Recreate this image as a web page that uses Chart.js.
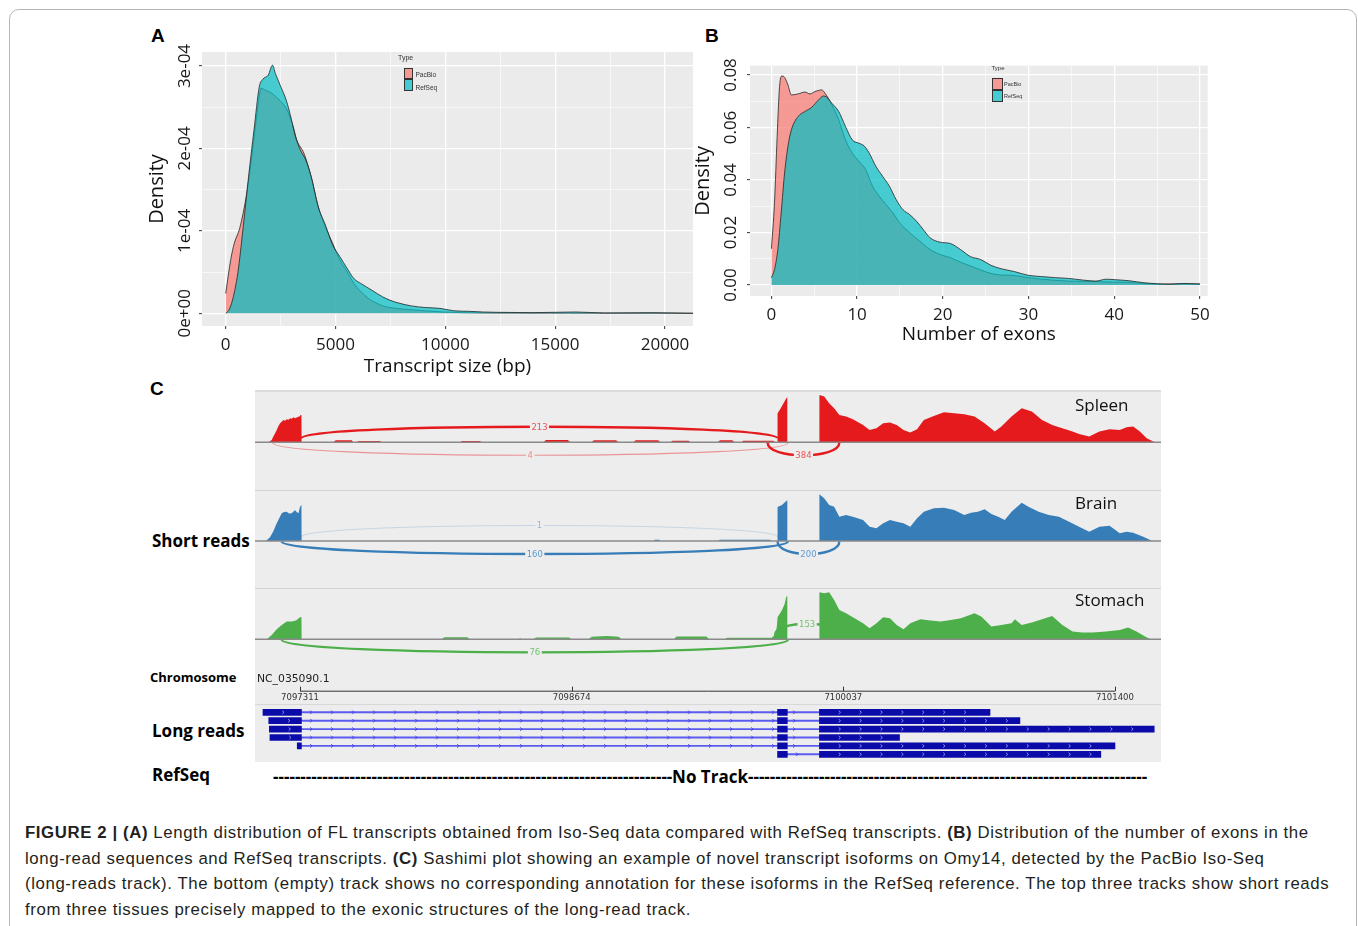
<!DOCTYPE html>
<html>
<head>
<meta charset="utf-8">
<title>Figure 2</title>
<script src="https://cdn.jsdelivr.net/npm/chart.js"></script>
<style>
  body { margin: 0; width: 1358px; height: 926px; position: relative; overflow: hidden; background: #fff; font-family: "Open Sans", sans-serif; color: #111; }
  .abs { position: absolute; white-space: nowrap; }
  canvas { position: absolute; }
  #frame { position: absolute; left: 9px; top: 9px; width: 1346px; height: 940px; border: 1px solid #b5b5b5; border-radius: 10px; }
  .letter { font: bold 19px/19px "Liberation Sans", Arial, sans-serif; color: #000; }
  .key { position: absolute; border: 1px solid #333; box-sizing: border-box; }
  .tiny { font-family: "Liberation Sans", Arial, sans-serif; color: #333; }
  #sashimiBg { position: absolute; left: 255px; top: 390px; width: 906px; height: 372px; background: #ededed; border-top: 2px solid #dcdcdc; box-sizing: border-box; }
  .sep { position: absolute; left: 255px; width: 906px; height: 1px; background: #d2d2d2; }
  .track { font-size: 17px; line-height: 24px; color: #111; }
  .side { font-weight: bold; font-size: 17px; line-height: 24px; color: #000; }
  #notrack { left: 273px; top: 765px; width: 874px; display: flex; font-weight: bold; font-size: 17px; line-height: 24px; color: #000; }
  #notrack .dash { flex: 1; overflow: hidden; }
  #caption { left: 25px; top: 820px; font: 16.8px/25.7px "Liberation Sans", Arial, sans-serif; letter-spacing: 0.6px; color: #231f20; }
</style>
</head>
<body>
<div id="frame"></div>

<div class="abs letter" style="left:151px;top:26px">A</div>
<div class="abs letter" style="left:705px;top:26px">B</div>
<div class="abs letter" style="left:150px;top:379px">C</div>

<canvas id="chartA" width="560" height="350" style="left:140px;top:40px"></canvas>
<canvas id="chartB" width="530" height="310" style="left:690px;top:50px"></canvas>

<!-- ggplot legends -->
<div class="abs tiny" style="left:398px;top:54px;font-size:7px">Type</div>
<div class="key" style="left:404px;top:67.5px;width:8.5px;height:11.5px;background:rgb(244,153,147)"></div>
<div class="key" style="left:404px;top:79px;width:8.5px;height:11.5px;background:rgb(70,204,208)"></div>
<div class="abs tiny" style="left:415.5px;top:71px;font-size:6.5px">PacBio</div>
<div class="abs tiny" style="left:415.5px;top:83.5px;font-size:6.5px">RefSeq</div>

<div class="abs tiny" style="left:991.5px;top:65px;font-size:6px">Type</div>
<div class="key" style="left:992px;top:78px;width:10.5px;height:12px;background:rgb(244,153,147)"></div>
<div class="key" style="left:992px;top:90px;width:10.5px;height:12px;background:rgb(70,204,208)"></div>
<div class="abs tiny" style="left:1004px;top:80.5px;font-size:5.5px">PacBio</div>
<div class="abs tiny" style="left:1004px;top:92.5px;font-size:5.5px">RefSeq</div>

<!-- panel C -->
<div id="sashimiBg"></div>
<div class="sep" style="top:490px"></div>
<div class="sep" style="top:588px"></div>
<div class="sep" style="top:704px;background:#d8d8d8"></div>

<canvas id="spleen" width="906" height="100" style="left:255px;top:390px"></canvas>
<canvas id="brain" width="906" height="98" style="left:255px;top:490px"></canvas>
<canvas id="stomach" width="906" height="80" style="left:255px;top:588px"></canvas>
<canvas id="reads" width="906" height="94" style="left:255px;top:668px"></canvas>

<div class="abs track" style="left:1075px;top:393px">Spleen</div>
<div class="abs track" style="left:1075px;top:491px">Brain</div>
<div class="abs track" style="left:1075px;top:588px">Stomach</div>

<div class="abs side" style="left:152px;top:529px">Short reads</div>
<div class="abs side" style="left:150px;top:668px;font-size:13px;line-height:18px">Chromosome</div>
<div class="abs side" style="left:152px;top:719px">Long reads</div>
<div class="abs side" style="left:152px;top:763px">RefSeq</div>
<div class="abs" style="left:257px;top:672px;font:10.8px/14px 'DejaVu Sans',sans-serif;color:#222">NC_035090.1</div>

<div id="notrack" class="abs">
  <span class="dash">--------------------------------------------------------------------------------------------------------</span>
  <span>No Track</span>
  <span class="dash">--------------------------------------------------------------------------------------------------------</span>
</div>

<div id="caption" class="abs">
<b>FIGURE 2 | (A)</b> Length distribution of FL transcripts obtained from Iso-Seq data compared with RefSeq transcripts. <b>(B)</b> Distribution of the number of exons in the<br>
long-read sequences and RefSeq transcripts. <b>(C)</b> Sashimi plot showing an example of novel transcript isoforms on Omy14, detected by the PacBio Iso-Seq<br>
(long-reads track). The bottom (empty) track shows no corresponding annotation for these isoforms in the RefSeq reference. The top three tracks show short reads<br>
from three tissues precisely mapped to the exonic structures of the long-read track.
</div>

<script>
'use strict';

Chart.defaults.font.family = '"Open Sans", sans-serif';

// panel A: transcript size (bp) vs density, density in units of 1e-4
let aPacX = [0, 228, 391, 635, 960, 1204, 1448, 1611, 1774, 2099, 2425, 2750, 3076, 3239, 3564, 3889, 4215, 4540, 4866, 5191, 5517, 5842, 6168, 6493, 6819, 7144, 7470, 8121, 9097, 9911, 10725, 12352, 15607, 21300];
let aPacY = [0.24, 0.65, 0.85, 1.03, 1.46, 1.94, 2.47, 2.73, 2.71, 2.67, 2.59, 2.49, 2.26, 2.10, 1.94, 1.66, 1.29, 1.05, 0.85, 0.65, 0.51, 0.36, 0.26, 0.18, 0.13, 0.09, 0.07, 0.05, 0.03, 0.016, 0.008, 0.004, 0.002, 0];
let aRefX = [0, 146, 309, 553, 798, 1042, 1286, 1530, 1693, 1937, 2132, 2262, 2506, 2750, 2994, 3157, 3401, 3645, 3889, 4215, 4540, 4866, 5191, 5517, 5842, 6168, 6656, 7144, 7470, 7796, 8447, 9097, 9748, 10399, 11050, 11701, 12352, 13980, 15933, 17234, 19350, 21300];
let aRefY = [0, 0.04, 0.16, 0.49, 1.05, 1.66, 2.22, 2.75, 2.84, 2.89, 3.01, 2.91, 2.75, 2.59, 2.35, 2.16, 1.98, 1.86, 1.66, 1.29, 1.07, 0.83, 0.69, 0.55, 0.42, 0.36, 0.28, 0.20, 0.16, 0.13, 0.09, 0.07, 0.06, 0.03, 0.024, 0.016, 0.012, 0.008, 0.016, 0.004, 0.008, 0];
let aXTicks = [0, 5000, 10000, 15000, 20000];
let aXMinor = [2500, 7500, 12500, 17500];
let aYTicks = [0, 1e-4, 2e-4, 3e-4];
let aYLabels = ['0e+00', '1e-04', '2e-04', '3e-04'];
let aYMinor = [0.5e-4, 1.5e-4, 2.5e-4];

// panel B: number of exons vs density
let bPacX = [0, 0.36, 0.67, 0.95, 1.22, 1.54, 1.93, 2.33, 3.12, 3.91, 4.50, 5.09, 5.88, 6.27, 7.06, 7.85, 8.64, 9.43, 10.22, 11.01, 11.80, 12.59, 13.38, 14.17, 14.96, 16.14, 17.32, 18.51, 19.69, 20.88, 22.06, 23.24, 24.43, 25.61, 26.80, 27.98, 29.16, 29.95, 31.53, 33.11, 34.69, 36.27, 37.85, 39.82, 41.79, 43.37, 44.95, 47.32, 50];
let bPacY = [0.0138, 0.0313, 0.0566, 0.0756, 0.0796, 0.0791, 0.0762, 0.0724, 0.0728, 0.0735, 0.0728, 0.0737, 0.0743, 0.0730, 0.0686, 0.0629, 0.0553, 0.0503, 0.0471, 0.0439, 0.0376, 0.0338, 0.0306, 0.0275, 0.0237, 0.0199, 0.0167, 0.0135, 0.0116, 0.0104, 0.0087, 0.0072, 0.0057, 0.0044, 0.0038, 0.0037, 0.0032, 0.0028, 0.0022, 0.0018, 0.0015, 0.0014, 0.0013, 0.0011, 0.0010, 0.0006, 0.0003, 0.0004, 0.0003];
let bRefX = [0, 0.36, 0.75, 1.14, 1.54, 1.93, 2.33, 3.12, 3.91, 4.70, 5.49, 6.08, 6.47, 7.06, 7.85, 8.64, 9.43, 10.22, 10.81, 11.40, 12.19, 12.98, 13.77, 14.56, 15.35, 16.14, 16.93, 17.72, 18.51, 19.69, 20.88, 22.06, 23.24, 24.43, 25.61, 26.80, 28.37, 29.95, 31.53, 33.11, 34.69, 36.27, 37.85, 39.03, 40.21, 41.79, 43.37, 44.95, 46.53, 48.11, 50];
let bRefY = [0.0028, 0.0059, 0.0135, 0.0275, 0.0427, 0.0528, 0.0591, 0.0642, 0.0661, 0.0677, 0.0705, 0.0720, 0.0715, 0.0692, 0.0661, 0.0604, 0.0553, 0.0540, 0.0530, 0.0503, 0.0452, 0.0414, 0.0376, 0.0325, 0.0287, 0.0268, 0.0243, 0.0211, 0.0180, 0.0163, 0.0158, 0.0135, 0.0108, 0.0097, 0.0075, 0.0062, 0.0051, 0.0037, 0.0032, 0.0028, 0.0025, 0.0019, 0.0015, 0.0022, 0.0020, 0.0016, 0.0009, 0.0005, 0.0003, 0.0006, 0.0004];
let bXTicks = [0, 10, 20, 30, 40, 50];
let bXMinor = [5, 15, 25, 35, 45];
let bYTicks = [0, 0.02, 0.04, 0.06, 0.08];
let bYLabels = ['0.00', '0.02', '0.04', '0.06', '0.08'];
let bYMinor = [0.01, 0.03, 0.05, 0.07];

// panel C: genomic window shown on NC_035090.1
let genomeMin = 7097085;
let genomeMax = 7101631;
let rulerTicks = [7097311, 7098674, 7100037, 7101400];

// coverage (read depth) per tissue
let spleenPos = [7097152, 7097169, 7097177, 7097186, 7097194, 7097202, 7097211, 7097219, 7097227, 7097236, 7097244, 7097253, 7097261, 7097269, 7097278, 7097286, 7097294, 7097303, 7097308, 7097314, 7097318, 7097319,
  7097478, 7097490, 7097570, 7097579, 7097595, 7097605, 7097712, 7097721, 7098114, 7098124, 7098213, 7098223, 7098532, 7098545, 7098655, 7098666,
  7098774, 7098785, 7098897, 7098908, 7098983, 7098995, 7099108, 7099119, 7099169, 7099180, 7099260, 7099271, 7099407, 7099418, 7099480, 7099491, 7099525, 7099535, 7099685, 7099695,
  7099707, 7099707, 7099720, 7099737, 7099751, 7099756, 7099756,
  7099917, 7099917, 7099941, 7099966, 7099991, 7100017, 7100051, 7100085, 7100136, 7100169, 7100203, 7100237, 7100271, 7100305, 7100339, 7100373, 7100407, 7100441, 7100491, 7100542, 7100593, 7100644, 7100695, 7100746, 7100797, 7100830, 7100881, 7100932, 7100983, 7101034, 7101085, 7101136, 7101187, 7101220, 7101271, 7101322, 7101373, 7101424, 7101458, 7101491, 7101525, 7101559, 7101593, 7101600];
let spleenDepth = [0, 2.3, 5.7, 9, 12.3, 16, 19, 20.5, 22.3, 21.5, 23, 22.5, 24, 23.5, 25, 24, 24.7, 25.5, 25.7, 27.3, 27.3, 0,
  0, 2, 2, 0, 0, 1.3, 1.3, 0, 0, 1.3, 1.3, 0, 0, 2.3, 2.3, 0,
  0, 2, 2, 0, 0, 2, 2, 0, 0, 1.5, 1.5, 0, 0, 2, 2, 0, 0, 1.5, 1.5, 0,
  0, 29, 33, 39, 44, 45, 0,
  0, 47.3, 45.7, 39, 34, 27.3, 25.7, 23, 17.3, 12.3, 14, 19, 19.7, 17.3, 12.3, 9.7, 13, 22.3, 26.3, 30, 29, 28, 25.7, 19, 10.7, 15.7, 25.7, 34, 30.7, 22.3, 17.3, 14, 10.7, 8.3, 5.7, 10.7, 13, 12.3, 15, 15.7, 10.7, 4, 0.7, 0];

let brainPos = [7097140, 7097161, 7097177, 7097194, 7097207, 7097219, 7097231, 7097244, 7097256, 7097269, 7097278, 7097286, 7097294, 7097303, 7097311, 7097318, 7097319,
  7099085, 7099092, 7099112, 7099119, 7099407, 7099418, 7099668, 7099678,
  7099707, 7099707, 7099729, 7099751, 7099756, 7099756,
  7099917, 7099917, 7099941, 7099966, 7099991, 7100017, 7100051, 7100085, 7100136, 7100169, 7100203, 7100237, 7100271, 7100305, 7100339, 7100373, 7100407, 7100441, 7100491, 7100542, 7100593, 7100644, 7100678, 7100712, 7100746, 7100780, 7100814, 7100847, 7100881, 7100932, 7100966, 7101017, 7101068, 7101119, 7101170, 7101220, 7101271, 7101322, 7101373, 7101424, 7101458, 7101491, 7101542, 7101585, 7101590];
let brainDepth = [0, 4, 9.7, 17.7, 23, 27.7, 29, 29.3, 27.5, 27.7, 29.5, 30.7, 29, 27.7, 34.3, 36, 0,
  0, 1.3, 1.3, 0, 0, 1.3, 1.3, 0,
  0, 34, 36, 40, 40.7, 0,
  0, 46.7, 42.7, 36, 34.3, 24.3, 26, 24.3, 21, 14.3, 12.7, 17.7, 21, 19.3, 17.7, 14.3, 22.7, 29.3, 32.7, 33.3, 31, 26, 28.3, 29.3, 31.7, 27, 24.3, 21, 29.3, 38.3, 34.3, 29.3, 26, 24.3, 19.3, 14.3, 9.3, 14.3, 15.3, 7.7, 9.3, 8.3, 4.3, 0.3, 0];

let stomachPos = [7097144, 7097169, 7097194, 7097219, 7097244, 7097269, 7097286, 7097294, 7097311, 7097318, 7097319,
  7098022, 7098035, 7098150, 7098164, 7098410, 7098415, 7098420, 7098482, 7098495, 7098660, 7098674, 7098758, 7098775, 7098850, 7098910, 7098925,
  7099186, 7099200, 7099350, 7099364, 7099441, 7099455, 7099678, 7099686,
  7099695, 7099703, 7099707, 7099729, 7099742, 7099751, 7099756, 7099756,
  7099917, 7099917, 7099941, 7099966, 7099991, 7100017, 7100051, 7100085, 7100136, 7100169, 7100203, 7100237, 7100271, 7100305, 7100339, 7100373, 7100424, 7100475, 7100525, 7100576, 7100627, 7100695, 7100729, 7100780, 7100830, 7100881, 7100898, 7100932, 7100983, 7101034, 7101085, 7101136, 7101187, 7101237, 7101288, 7101356, 7101424, 7101466, 7101508, 7101551, 7101576, 7101580];
let stomachDepth = [0, 4.3, 10, 14.3, 17.7, 17.7, 18.5, 19.3, 22, 22.3, 0,
  0, 2, 2, 0, 0, 1.5, 0, 0, 1.7, 1.7, 0, 0, 2.5, 3.3, 2.5, 0,
  0, 2.7, 2.7, 0, 0, 1.5, 1.5, 3,
  5, 12, 22, 29, 35, 42.7, 43, 0,
  0, 47, 46, 47, 39.3, 29.3, 26, 22, 16, 11, 16, 22, 21, 14.3, 10, 16, 20, 18.7, 17.7, 19.3, 21, 26, 22.7, 12.7, 14.3, 16, 20, 14.3, 16.7, 20, 23.3, 14.3, 7.7, 6.7, 6.7, 7.7, 9.3, 11.7, 7.7, 2.7, 0.3, 0];

// splice junctions: start, end, read count, side (1 above, -1 below)
let spleenJStart = [7097318, 7097174, 7099657];
let spleenJEnd = [7099707, 7099759, 7100017];
let spleenJCount = [213, 4, 384];
let spleenJSide = [1, -1, -1];
let brainJStart = [7097318, 7097219, 7099707];
let brainJEnd = [7099707, 7099759, 7100017];
let brainJCount = [1, 160, 200];
let brainJSide = [1, -1, -1];
let stomachJStart = [7099694, 7097219];
let stomachJEnd = [7100017, 7099759];
let stomachJCount = [153, 76];
let stomachJSide = [1, -1];

// long reads: exon structure per read
let readRows = ['read1', 'read2', 'read3', 'read4', 'read5', 'read6'];
let exon1Starts = [7097125, 7097154, 7097157, 7097160, 7097297, null];
let exon1End = 7097318;
let exon2Span = [7099707, 7099756];
let exon3Start = 7099917;
let readEnds = [7100773, 7100923, 7101597, 7100319, 7101400, 7101329];


function pts(xs, ys, k) {
    return xs.map((x, i) => ({ x: x, y: ys[i] * k }));
}

// grey panel + rotated y tick labels, ggplot style
const ggPanel = {
    id: 'ggPanel',
    beforeDraw(chart) {
        const a = chart.chartArea;
        const c = chart.ctx;
        c.save();
        c.fillStyle = '#ebebeb';
        c.fillRect(a.left, a.top, a.right - a.left, a.bottom - a.top);
        c.restore();
    },
    afterDraw(chart, args, o) {
        const c = chart.ctx;
        const y = chart.scales.y;
        c.save();
        c.font = '17px "Open Sans"';
        c.fillStyle = '#1a1a1a';
        c.textAlign = 'center';
        c.textBaseline = 'middle';
        o.values.forEach((v, i) => {
            c.save();
            c.translate(chart.chartArea.left - o.offset, y.getPixelForValue(v));
            c.rotate(-Math.PI / 2);
            c.fillText(o.labels[i], 0, 0);
            c.restore();
        });
        c.restore();
    }
};

function gridOpts(major) {
    return {
        color: '#ffffff',
        lineWidth: ctx => (ctx.tick && major.includes(ctx.tick.value)) ? 1.3 : 0.6,
        tickLength: 3,
        tickWidth: 1,
        tickColor: ctx => (ctx.tick && major.includes(ctx.tick.value)) ? '#333333' : 'rgba(0,0,0,0)'
    };
}

function densityChart(id, o) {
    return new Chart(document.getElementById(id), {
        type: 'line',
        data: {
            datasets: [{
                label: 'PacBio',
                data: o.pac,
                order: 2,
                fill: 'origin',
                backgroundColor: 'rgba(248,118,109,0.7)',
                borderColor: '#262626',
                borderWidth: 0.8,
                pointRadius: 0,
                cubicInterpolationMode: 'monotone'
            }, {
                label: 'RefSeq',
                data: o.ref,
                order: 1,
                fill: 'origin',
                backgroundColor: 'rgba(0,191,196,0.7)',
                borderColor: '#262626',
                borderWidth: 0.8,
                pointRadius: 0,
                cubicInterpolationMode: 'monotone'
            }]
        },
        options: {
            responsive: false,
            animation: false,
            devicePixelRatio: 1,
            events: [],
            layout: { padding: o.pad },
            plugins: {
                legend: { display: false },
                tooltip: { enabled: false },
                ggPanel: { values: o.yTicks, labels: o.yLabels, offset: o.yLabelOffset }
            },
            scales: {
                x: {
                    type: 'linear',
                    min: o.xMin,
                    max: o.xMax,
                    afterBuildTicks: s => { s.ticks = o.xTicks.concat(o.xMinor).map(v => ({ value: v })); },
                    afterFit: s => { s.height = o.xAxisH; },
                    ticks: {
                        autoSkip: false,
                        maxRotation: 0,
                        padding: 5.8,
                        color: '#1a1a1a',
                        font: { size: 17 },
                        callback: v => o.xTicks.includes(v) ? String(v) : ''
                    },
                    grid: gridOpts(o.xTicks),
                    border: { display: false },
                    title: { display: true, text: o.xTitle, color: '#111', font: { size: 19 }, padding: { top: 4, bottom: 4 } }
                },
                y: {
                    min: o.yMin,
                    max: o.yMax,
                    afterBuildTicks: s => { s.ticks = o.yTicks.concat(o.yMinor).map(v => ({ value: v })); },
                    afterFit: s => { s.width = o.yAxisW; },
                    ticks: { display: false },
                    grid: gridOpts(o.yTicks),
                    border: { display: false },
                    title: { display: true, text: 'Density', color: '#111', font: { size: 20 }, padding: { top: o.yTitlePad, bottom: 0 } }
                }
            }
        },
        plugins: [ggPanel]
    });
}

densityChart('chartA', {
    pac: pts(aPacX, aPacY, 1e-4),
    ref: pts(aRefX, aRefY, 1e-4),
    xMin: -1079, xMax: 21275, yMin: -0.154e-4, yMax: 3.17e-4,
    xTicks: aXTicks, xMinor: aXMinor, yTicks: aYTicks, yMinor: aYMinor, yLabels: aYLabels,
    xTitle: 'Transcript size (bp)',
    pad: { left: 0, top: 12, right: 7, bottom: 7.6 },
    xAxisH: 56.4, yAxisW: 62, yTitlePad: 5.4, yLabelOffset: 17
});

densityChart('chartB', {
    pac: pts(bPacX, bPacY, 1),
    ref: pts(bRefX, bRefY, 1),
    xMin: -2.497, xMax: 50.9, yMin: -0.00419, yMax: 0.08354,
    xTicks: bXTicks, xMinor: bXMinor, yTicks: bYTicks, yMinor: bYMinor, yLabels: bYLabels,
    xTitle: 'Number of exons',
    pad: { left: 0, top: 15.7, right: 12.3, bottom: 9.6 },
    xAxisH: 54.4, yAxisW: 60, yTitlePad: 1.5, yLabelOffset: 19
});


// sashimi: baseline, junction arcs and their counts
const sashimi = {
    id: 'sashimi',
    afterDatasetsDraw(chart, args, o) {
        const c = chart.ctx;
        const xs = chart.scales.x;
        const ys = chart.scales.y;
        const a = chart.chartArea;
        const base = ys.getPixelForValue(0);
        c.save();
        c.strokeStyle = '#8a8a8a';
        c.lineWidth = 1.6;
        c.beginPath();
        c.moveTo(a.left, base);
        c.lineTo(a.right, base);
        c.stroke();
        c.font = '8.5px "DejaVu Sans"';
        c.textAlign = 'center';
        c.textBaseline = 'middle';
        o.starts.forEach((s, i) => {
            const n = o.counts[i];
            const up = o.sides[i] > 0;
            const x1 = xs.getPixelForValue(s);
            const x2 = xs.getPixelForValue(o.ends[i]);
            const y0 = up ? base - 4 : base + 0.5;
            const k = (up ? -11.5 : 12.5) / 0.75;
            const alpha = Math.min(1, 0.15 + n / 15);
            c.globalAlpha = alpha;
            c.strokeStyle = o.color;
            c.lineWidth = Math.min(2.4, 0.8 + Math.sqrt(n) / 6);
            c.beginPath();
            c.moveTo(x1, y0);
            c.bezierCurveTo(x1, y0 + k, x2, y0 + k, x2, y0);
            c.stroke();
            const xm = (x1 + x2) / 2;
            const ym = y0 + 0.75 * k;
            const w = c.measureText(String(n)).width + 3;
            c.globalAlpha = 1;
            c.fillStyle = o.bg;
            c.fillRect(xm - w / 2, ym - 4, w, 8);
            c.globalAlpha = Math.max(0.65, alpha);
            c.fillStyle = o.labelColor;
            c.fillText(String(n), xm, ym + 0.5);
        });
        c.restore();
    }
};

function trackChart(id, pos, depth, junc, color, labelColor, yMin, yMax) {
    return new Chart(document.getElementById(id), {
        type: 'line',
        data: {
            datasets: [{
                data: pos.map((p, i) => ({ x: p, y: depth[i] })),
                fill: 'origin',
                backgroundColor: color,
                borderColor: 'rgba(0,0,0,0)',
                borderWidth: 0,
                pointRadius: 0,
                tension: 0
            }]
        },
        options: {
            responsive: false,
            animation: false,
            devicePixelRatio: 1,
            events: [],
            layout: { padding: 0 },
            plugins: {
                legend: { display: false },
                tooltip: { enabled: false },
                sashimi: { starts: junc[0], ends: junc[1], counts: junc[2], sides: junc[3], color: color, labelColor: labelColor, bg: '#ededed' }
            },
            scales: {
                x: { type: 'linear', display: false, min: genomeMin, max: genomeMax },
                y: { display: false, min: yMin, max: yMax }
            }
        },
        plugins: [sashimi]
    });
}

trackChart('spleen', spleenPos, spleenDepth, [spleenJStart, spleenJEnd, spleenJCount, spleenJSide], '#e41a1c', '#ef5456', -47.7, 52.3);
trackChart('brain', brainPos, brainDepth, [brainJStart, brainJEnd, brainJCount, brainJSide], '#377eb8', '#5d9bd2', -47, 51);
trackChart('stomach', stomachPos, stomachDepth, [stomachJStart, stomachJEnd, stomachJCount, stomachJSide], '#4daf4a', '#74c271', -28.7, 51.3);


// long reads: ruler above, strand chevrons on introns and exons
function chevron(c, px, py, h) {
    c.beginPath();
    c.moveTo(px - 1.2, py - h);
    c.lineTo(px + 0.6, py);
    c.lineTo(px - 1.2, py + h);
    c.stroke();
}

const readDecor = {
    id: 'readDecor',
    beforeDatasetsDraw(chart, args, o) {
        const c = chart.ctx;
        const xs = chart.scales.x;
        const x1 = xs.getPixelForValue(o.ticks[0]);
        const x2 = xs.getPixelForValue(o.ticks[o.ticks.length - 1]);
        c.save();
        c.strokeStyle = '#333';
        c.lineWidth = 1;
        c.beginPath();
        c.moveTo(x1, o.rulerY + 0.5);
        c.lineTo(x2, o.rulerY + 0.5);
        o.ticks.forEach(t => {
            const px = Math.round(xs.getPixelForValue(t)) + 0.5;
            c.moveTo(px, o.rulerY + 0.5);
            c.lineTo(px, o.rulerY - 4);
        });
        c.stroke();
        c.fillStyle = '#333';
        c.font = '8.5px "DejaVu Sans"';
        c.textAlign = 'center';
        c.textBaseline = 'middle';
        o.ticks.forEach(t => c.fillText(String(t), xs.getPixelForValue(t), o.rulerY + 6.8));
        c.restore();
    },
    afterDatasetDraw(chart, args, o) {
        const c = chart.ctx;
        c.save();
        c.lineWidth = 0.9;
        if (args.index === 0) {
            const xs = chart.scales.x;
            const e2a = xs.getPixelForValue(exon2Span[0]) - 2;
            const e2b = xs.getPixelForValue(exon2Span[1]) + 2;
            c.strokeStyle = '#3c3ce6';
            args.meta.data.forEach(el => {
                const p = el.getProps(['x', 'base', 'y'], true);
                const lo = Math.min(p.x, p.base);
                const hi = Math.max(p.x, p.base);
                for (let px = lo + 10; px < hi - 4; px += o.step) {
                    if (px > e2a && px < e2b) continue;
                    chevron(c, px, p.y, 1.8);
                }
            });
        } else if (args.index === 1 || args.index === 3) {
            c.strokeStyle = '#9a9af7';
            args.meta.data.forEach(el => {
                const p = el.getProps(['x', 'base', 'y'], true);
                if (p.x === null || isNaN(p.x)) return;
                const lo = Math.min(p.x, p.base);
                const hi = Math.max(p.x, p.base);
                for (let px = lo + 20.5; px < hi - 4; px += 20.9) {
                    chevron(c, px, p.y, 1.6);
                }
            });
        }
        c.restore();
    }
};

const exonBlue = '#0b0baa';

new Chart(document.getElementById('reads'), {
    type: 'bar',
    data: {
        labels: readRows,
        datasets: [{
            data: readRows.map((r, i) => [exon1Starts[i] === null ? exon2Span[1] : exon1End, exon3Start]),
            backgroundColor: '#5b5bf0',
            barThickness: 1.2,
            order: 4
        }, {
            data: exon1Starts.map(s => s === null ? null : [s, exon1End]),
            backgroundColor: exonBlue,
            barThickness: 6,
            order: 3
        }, {
            data: readRows.map(() => exon2Span.slice()),
            backgroundColor: exonBlue,
            barThickness: 6,
            order: 2
        }, {
            data: readEnds.map(e => [exon3Start, e]),
            backgroundColor: exonBlue,
            barThickness: 6,
            order: 1
        }]
    },
    options: {
        indexAxis: 'y',
        responsive: false,
        animation: false,
        devicePixelRatio: 1,
        events: [],
        layout: { padding: { top: 40.1, bottom: 3.5, left: 0, right: 0 } },
        datasets: { bar: { grouped: false } },
        plugins: {
            legend: { display: false },
            tooltip: { enabled: false },
            readDecor: { ticks: rulerTicks, rulerY: 22.7, step: 21 }
        },
        scales: {
            x: { type: 'linear', display: false, min: genomeMin, max: genomeMax },
            y: { display: false }
        }
    },
    plugins: [readDecor]
});
</script>
</body>
</html>
